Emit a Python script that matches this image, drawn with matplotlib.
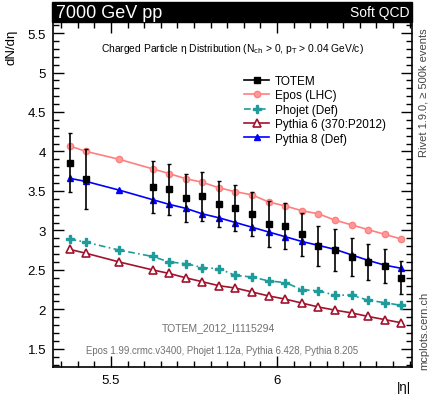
import matplotlib
matplotlib.use('Agg')
import matplotlib.pyplot as plt
from matplotlib.patches import Rectangle
from matplotlib.lines import Line2D
from matplotlib.ticker import MultipleLocator

plt.rcParams['font.family'] = ['Liberation Sans', 'DejaVu Sans']

# eta bin centres
eta_mc = [5.375, 5.425, 5.525, 5.625, 5.675, 5.725, 5.775, 5.825, 5.875, 5.925,
          5.975, 6.025, 6.075, 6.125, 6.175, 6.225, 6.275, 6.325, 6.375]
eta_data = [5.375, 5.425, 5.625, 5.675, 5.725, 5.775, 5.825, 5.875, 5.925,
            5.975, 6.025, 6.075, 6.125, 6.175, 6.225, 6.275, 6.325, 6.375]

totem = [3.86, 3.65, 3.55, 3.52, 3.41, 3.43, 3.33, 3.28, 3.21,
         3.08, 3.06, 2.95, 2.80, 2.75, 2.66, 2.60, 2.55, 2.40]
totem_err = [0.37, 0.38, 0.33, 0.32, 0.30, 0.31, 0.29, 0.29, 0.28,
             0.29, 0.29, 0.27, 0.25, 0.27, 0.24, 0.23, 0.21, 0.21]

epos = [4.07, 4.00, 3.90, 3.78, 3.72, 3.655, 3.61, 3.54, 3.49, 3.45,
        3.36, 3.31, 3.25, 3.21, 3.13, 3.07, 3.01, 2.95, 2.89]
phojet = [2.89, 2.85, 2.75, 2.67, 2.60, 2.58, 2.53, 2.515, 2.43, 2.41,
          2.36, 2.34, 2.25, 2.235, 2.18, 2.18, 2.115, 2.085, 2.05]
pythia6 = [2.76, 2.71, 2.60, 2.50, 2.455, 2.40, 2.35, 2.30, 2.27, 2.22,
           2.17, 2.13, 2.08, 2.03, 1.99, 1.955, 1.91, 1.87, 1.83]
pythia8 = [3.66, 3.62, 3.51, 3.39, 3.33, 3.28, 3.21, 3.16, 3.10, 3.04,
           2.98, 2.92, 2.86, 2.81, 2.76, 2.69, 2.62, 2.56, 2.52]

W, H = 430, 402
fig = plt.figure(figsize=(W / 100, H / 100), dpi=100)
ax = fig.add_axes([53 / W, 1 - 368 / H, 359 / W, 345 / H])

l_epos, = ax.plot(eta_mc, epos, color='#ff7f7f', lw=1.2, marker='o', ms=4.5,
                  mfc='#ff9a9a', mec='#ff7f7f', zorder=3)
l_pho, = ax.plot(eta_mc, phojet, color='#1e9b9b', lw=1.2, ls=(0, (4, 2, 1, 2)),
                 marker='P', ms=6, mec='#1e9b9b', mfc='#1e9b9b', zorder=3)
l_py6, = ax.plot(eta_mc, pythia6, color='#a1122c', lw=1.2, marker='^', ms=6,
                 mfc='white', mec='#a1122c', mew=1.2, zorder=3)
l_py8, = ax.plot(eta_mc, pythia8, color='#0000ff', lw=1.2, marker='^', ms=4.5,
                 mfc='#0000ff', mec='#0000ff', zorder=3)
ax.errorbar(eta_data, totem, yerr=totem_err, fmt='s', color='black', ms=5,
            elinewidth=1.2, capsize=1.5, zorder=4)
l_data = Line2D([], [], color='black', lw=1.2, marker='s', ms=5)

ax.set_xlim(5.325, 6.407)
ax.set_ylim(1.27, 5.64)
ax.xaxis.set_minor_locator(MultipleLocator(0.05))
ax.yaxis.set_minor_locator(MultipleLocator(0.1))
ax.tick_params(which='both', direction='in', top=True, right=True, labelsize=9.5,
               width=1.0, pad=5)
ax.tick_params(which='major', length=8)
ax.tick_params(which='minor', length=4)
ax.set_xticks([5.5, 6.0])
ax.set_xticklabels(['5.5', '6'])
ax.set_yticks([1.5, 2, 2.5, 3, 3.5, 4, 4.5, 5, 5.5])
ax.set_yticklabels(['1.5', '2', '2.5', '3', '3.5', '4', '4.5', '5', '5.5'])
for s in ax.spines.values():
    s.set_linewidth(1.2)

ax.legend([l_data, l_epos, l_pho, l_py6, l_py8],
          ['TOTEM', 'Epos (LHC)', 'Phojet (Def)', 'Pythia 6 (370:P2012)', 'Pythia 8 (Def)'],
          loc='upper left', bbox_to_anchor=(0.51, 0.87), frameon=False, fontsize=8.5,
          handlelength=2.1, handletextpad=0.5, labelspacing=0.2, borderpad=0.2)

ax.text(0.5, 0.925, 'Charged Particle \u03b7 Distribution (N$_{\\rm ch}$ > 0, p$_{\\rm T}$ > 0.04 GeV/c)',
        transform=ax.transAxes, ha='center', va='center', fontsize=7.4)
ax.text(0.46, 0.115, 'TOTEM_2012_I1115294', transform=ax.transAxes,
        ha='center', va='center', fontsize=7.5, color='#707070')
ax.text(0.47, 0.05, 'Epos 1.99.crmc.v3400, Phojet 1.12a, Pythia 6.428, Pythia 8.205',
        transform=ax.transAxes, ha='center', va='center', fontsize=6.9, color='#707070')

# axis titles
fig.text(12 / W, 1 - 30 / H, 'dN/d\u03b7', rotation=90, ha='center', va='top', fontsize=9.5)
fig.text(411 / W, 1 - 388 / H, '|\u03b7|', ha='right', va='center', fontsize=9.5)

# header band
fig.patches.append(Rectangle((52 / W, 1 - 23 / H), 360 / W, 20 / H,
                             transform=fig.transFigure, color='black', zorder=0))
fig.text(56 / W, 1 - 13 / H, '7000 GeV pp', color='white', fontsize=13,
         ha='left', va='center')
fig.text(409 / W, 1 - 13 / H, 'Soft QCD', color='white', fontsize=10,
         ha='right', va='center')

# side captions
fig.text(424 / W, 1 - 28 / H, 'Rivet 1.9.0, \u2265 500k events', rotation=90,
         ha='center', va='top', fontsize=8, color='#444444')
fig.text(424 / W, 1 - 370 / H, 'mcplots.cern.ch', rotation=90,
         ha='center', va='bottom', fontsize=8, color='#444444')

fig.savefig('out.png', dpi=100)
